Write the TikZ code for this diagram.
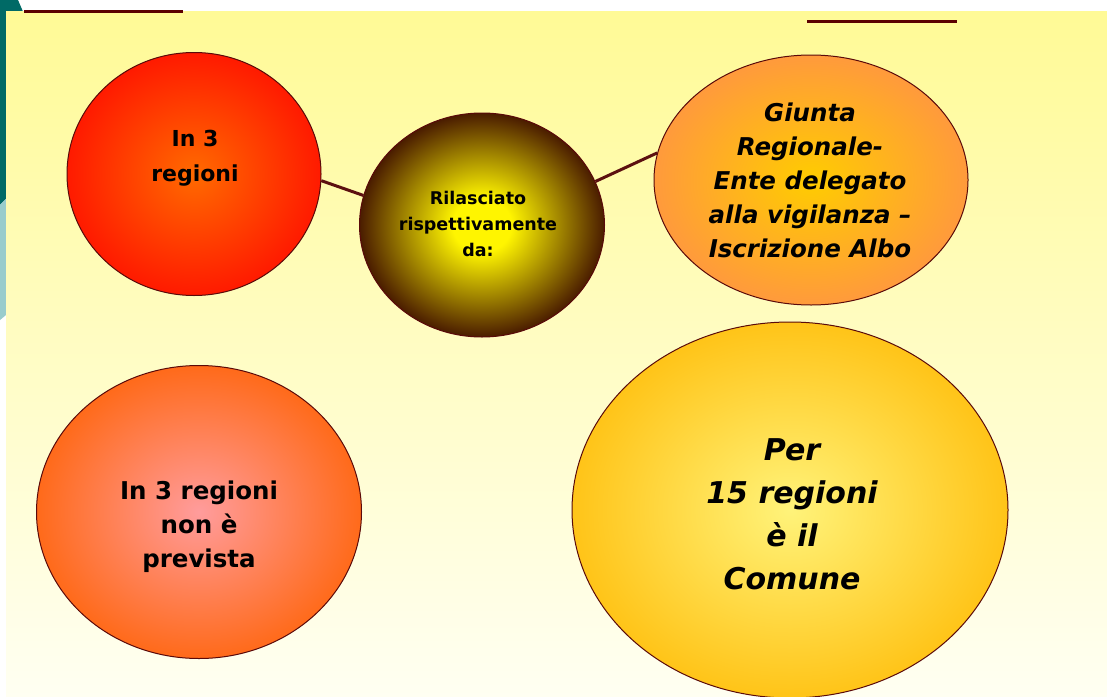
\documentclass[tikz,border=0pt]{standalone}
\usepackage{fontspec}
\setmainfont{DejaVu Sans}
\usetikzlibrary{shapes.geometric}
\definecolor{tealdark}{HTML}{006A66}
\definecolor{teallight}{HTML}{99CCCC}
\definecolor{bgtop}{HTML}{FFFA96}
\definecolor{bgbot}{HTML}{FFFFF2}
\definecolor{rim}{HTML}{5A0A0A}
\definecolor{linkc}{HTML}{5C1010}
\definecolor{barc}{HTML}{5C0000}
\definecolor{tlin}{HTML}{FF6A00}
\definecolor{tlout}{HTML}{FF1A00}
\definecolor{blin}{HTML}{FF9C9C}
\definecolor{blout}{HTML}{FF6A1A}
\definecolor{giin}{HTML}{FFCC00}
\definecolor{giout}{HTML}{FF9A3C}
\definecolor{bgin}{HTML}{FFF37A}
\definecolor{bgout}{HTML}{FFC418}
\definecolor{hubin}{HTML}{FFF500}
\definecolor{hubmid}{HTML}{A08400}
\definecolor{hubout}{HTML}{4A1C00}
\pgfdeclareradialshading{hubshade}{\pgfpoint{0bp}{0bp}}{color(0bp)=(hubin); color(6bp)=(hubin); color(16bp)=(hubmid); color(25bp)=(hubout); color(50bp)=(hubout)}
\begin{document}
\begin{tikzpicture}[x=1pt,y=-1pt,
  bubble/.style={ellipse, draw=rim, line width=1pt, inner sep=0pt},
  link/.style={draw=linkc, line width=3pt},
  bar/.style={draw=barc, line width=3pt},
  txt/.style={align=center, text=black, inner sep=0pt}]
\useasboundingbox (0,0) rectangle (1107,696);
\fill[white] (0,0) rectangle (1107,696);
% teal decoration at the left edge
\fill[tealdark] (0,0) -- (18,0) -- (24,14) -- (24,180) -- (0,205) -- cycle;
\fill[teallight] (0,205) -- (24,180) -- (24,300) -- (0,320) -- cycle;
% slide panel
\shade[top color=bgtop, bottom color=bgbot] (6,11) rectangle (1107,696);
% bars at the top
\draw[bar] (24,11.5) -- (183,11.5);
\draw[bar] (807,21) -- (957,21);
% bubbles
\node[bubble, minimum width=254, minimum height=243, inner color=tlin, outer color=tlout] (tl) at (194,174) {};
\node[bubble, minimum width=245, minimum height=224, shade, shading=hubshade] (hub) at (482,225) {};
\node[bubble, minimum width=314, minimum height=250, inner color=giin, outer color=giout] (gi) at (811,180) {};
\node[bubble, minimum width=325, minimum height=293, inner color=blin, outer color=blout] (bl) at (199,512) {};
\node[bubble, minimum width=436, minimum height=376, inner color=bgin, outer color=bgout] (big) at (790,510) {};
% connectors
\draw[link] (tl.-3) -- (hub.166);
\draw[link] (hub.21) -- (gi.170);
% texts
\node[txt, font=\fontsize{22}{35}\selectfont\bfseries] (tlt) at (195,158) {In 3\\regioni};
\node[txt, font=\fontsize{17.5}{26}\selectfont\bfseries] (hubt) at (478,224) {Rilasciato\\rispettivamente\\da:};
\node[txt, font=\fontsize{24.5}{34}\selectfont\bfseries\itshape] (git) at (810,180) {Giunta\\Regionale-\\Ente delegato\\alla vigilanza –\\Iscrizione Albo};
\node[txt, font=\fontsize{24.5}{34}\selectfont\bfseries] (blt) at (199,527) {In 3 regioni\\non è\\prevista};
\node[txt, font=\fontsize{30}{43}\selectfont\bfseries\itshape] (bigt) at (792,514) {Per\\15 regioni\\è il\\Comune};
\end{tikzpicture}
\end{document}
